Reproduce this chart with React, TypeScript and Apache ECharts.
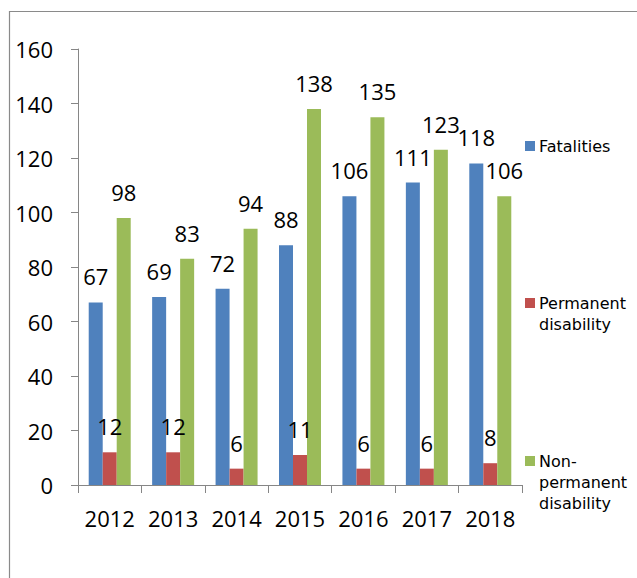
import React, { useEffect, useRef } from "react";
import * as echarts from "echarts";

const years = ["2012", "2013", "2014", "2015", "2016", "2017", "2018"];
const fatalities = [67, 69, 72, 88, 106, 111, 118];
const permanentDisability = [12, 12, 6, 11, 6, 6, 8];
const nonPermanentDisability = [98, 83, 94, 138, 135, 123, 106];
const seriesNames = ["Fatalities", "Permanent\ndisability", "Non-\npermanent\ndisability"];
const colors = ["#4F81BD", "#C0504D", "#9BBB59"];

const numFont = "'Open Sans', 'Liberation Sans', sans-serif";
const legendFont = "'DejaVu Sans', sans-serif";

export default function App() {
  const ref = useRef<HTMLDivElement>(null);
  useEffect(() => {
    if (!ref.current) return;
    const chart = echarts.init(ref.current, undefined, { renderer: "svg" });
    const values = [fatalities, permanentDisability, nonPermanentDisability];
    const legendY = [146, 303, 461];
    const legendGraphics: any[] = [];
    seriesNames.forEach((name, i) => {
      legendGraphics.push({
        type: "rect",
        shape: { x: 525, y: legendY[i] - 5, width: 10, height: 10 },
        style: { fill: colors[i] },
      });
      legendGraphics.push({
        type: "text",
        x: 539,
        y: legendY[i] - 10.5,
        style: {
          text: name,
          font: `16px ${legendFont}`,
          fill: "#000",
          lineHeight: 21,
          textVerticalAlign: "top",
          verticalAlign: "top",
        },
      });
    });
    chart.setOption({
      animation: false,
      backgroundColor: "#fff",
      grid: { left: 78, right: 115, top: 49, bottom: 93, containLabel: false },
      xAxis: {
        type: "category",
        data: years,
        axisLine: { show: true, lineStyle: { color: "#868686", width: 1 } },
        axisTick: { show: true, length: 8, lineStyle: { color: "#868686" } },
        axisLabel: { color: "#000", fontSize: 22, fontFamily: numFont, margin: 22, interval: 0 },
      },
      yAxis: {
        type: "value",
        min: 0,
        max: 160,
        interval: 20,
        splitLine: { show: false },
        axisLine: { show: true, lineStyle: { color: "#868686", width: 1 } },
        axisTick: { show: true, length: 7, lineStyle: { color: "#868686" } },
        axisLabel: { color: "#000", fontSize: 22, fontFamily: numFont, margin: 25 },
      },
      series: values.map((v, i) => ({
        type: "bar",
        name: seriesNames[i],
        data: v,
        barWidth: 14,
        barGap: "0%",
        itemStyle: { color: colors[i] },
        label: {
          show: true,
          position: "top",
          distance: 15,
          color: "#000",
          fontSize: 22,
          fontFamily: numFont,
        },
      })),
      graphic: [
        {
          type: "rect",
          shape: { x: 9.5, y: 11.5, width: 800, height: 800 },
          style: { fill: "none", stroke: "#8a8a8a", lineWidth: 1.2 },
          silent: true,
          z: -10,
        },
        ...legendGraphics,
      ],
    });
    return () => chart.dispose();
  }, []);
  return (
    <div
      ref={ref}
      style={{ position: "absolute", left: 0, top: 0, width: 637, height: 578 }}
    />
  );
}
